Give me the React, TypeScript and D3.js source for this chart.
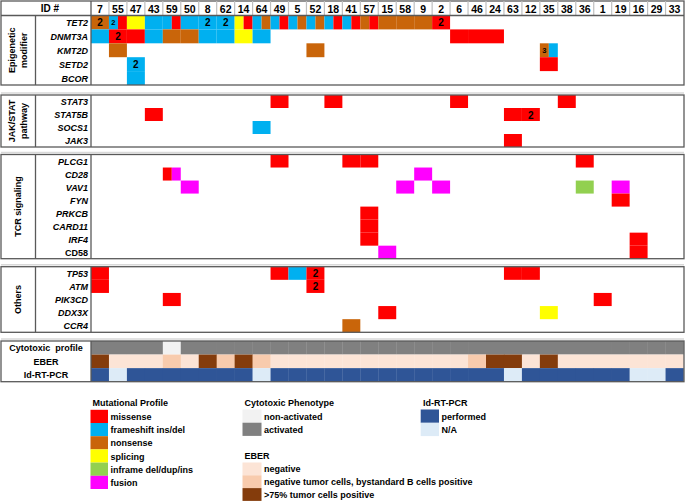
import React from "react";
import * as d3 from "d3";

// ---------- DATA ----------
const IDS = [7, 55, 47, 43, 59, 50, 8, 62, 14, 64, 49, 5, 52, 18, 41, 57, 15, 58, 9, 2, 6, 46, 24, 63, 12, 35, 38, 36, 1, 19, 16, 29, 33];

const EPIGENETIC = ["TET2", "DNMT3A", "KMT2D", "SETD2", "BCOR"];
const JAKSTAT = ["STAT3", "STAT5B", "SOCS1", "JAK3"];
const TCR = ["PLCG1", "CD28", "VAV1", "FYN", "PRKCB", "CARD11", "IRF4", "CD58"];
const OTHERS = ["TP53", "ATM", "PIK3CD", "DDX3X", "CCR4"];

const MUT_TYPES = ["missense", "frameshift ins/del", "nonsense", "splicing", "inframe del/dup/ins", "fusion"];
const MUT_COLORS = ["#FF0000", "#00B0F0", "#C9650A", "#FFFF00", "#92D050", "#FF00FF"];

// [gene, patient, type, label]; several entries for one gene/patient split the cell
const MUTATIONS: [string, number, string, string?][] = [
  ["TET2", 7, "nonsense", "2"],
  ["TET2", 55, "frameshift ins/del", "2"], ["TET2", 55, "missense"],
  ["TET2", 47, "splicing"],
  ["TET2", 43, "frameshift ins/del"],
  ["TET2", 59, "frameshift ins/del"], ["TET2", 59, "missense"],
  ["TET2", 50, "frameshift ins/del"],
  ["TET2", 8, "frameshift ins/del", "2"],
  ["TET2", 62, "frameshift ins/del", "2"],
  ["TET2", 14, "splicing"], ["TET2", 14, "missense"],
  ["TET2", 64, "frameshift ins/del"], ["TET2", 64, "nonsense"],
  ["TET2", 49, "frameshift ins/del"], ["TET2", 49, "missense"],
  ["TET2", 5, "frameshift ins/del"], ["TET2", 5, "nonsense"],
  ["TET2", 52, "frameshift ins/del"], ["TET2", 52, "nonsense"],
  ["TET2", 18, "frameshift ins/del"], ["TET2", 18, "missense"],
  ["TET2", 41, "frameshift ins/del"], ["TET2", 41, "missense"],
  ["TET2", 57, "nonsense"], ["TET2", 57, "missense"],
  ["TET2", 15, "nonsense"], ["TET2", 58, "nonsense"], ["TET2", 9, "nonsense"],
  ["TET2", 2, "missense", "2"],
  ["DNMT3A", 7, "frameshift ins/del"], ["DNMT3A", 55, "missense", "2"], ["DNMT3A", 47, "missense"],
  ["DNMT3A", 43, "frameshift ins/del"], ["DNMT3A", 59, "nonsense"], ["DNMT3A", 50, "nonsense"],
  ["DNMT3A", 8, "frameshift ins/del"], ["DNMT3A", 62, "frameshift ins/del"], ["DNMT3A", 14, "splicing"],
  ["DNMT3A", 64, "frameshift ins/del"], ["DNMT3A", 6, "missense"], ["DNMT3A", 46, "missense"], ["DNMT3A", 24, "missense"],
  ["KMT2D", 55, "nonsense"], ["KMT2D", 52, "nonsense"], ["KMT2D", 35, "nonsense", "3"], ["KMT2D", 35, "frameshift ins/del"],
  ["SETD2", 47, "frameshift ins/del", "2"], ["SETD2", 35, "missense"],
  ["BCOR", 47, "frameshift ins/del"],
  ["STAT3", 49, "missense"], ["STAT3", 18, "missense"], ["STAT3", 6, "missense"], ["STAT3", 38, "missense"],
  ["STAT5B", 43, "missense"], ["STAT5B", 63, "missense"], ["STAT5B", 12, "missense", "2"],
  ["SOCS1", 64, "frameshift ins/del"],
  ["JAK3", 63, "missense"],
  ["PLCG1", 49, "missense"], ["PLCG1", 41, "missense"], ["PLCG1", 57, "missense"], ["PLCG1", 36, "missense"],
  ["CD28", 59, "missense"], ["CD28", 59, "fusion"], ["CD28", 9, "fusion"],
  ["VAV1", 50, "fusion"], ["VAV1", 58, "fusion"], ["VAV1", 2, "fusion"], ["VAV1", 36, "inframe del/dup/ins"], ["VAV1", 19, "fusion"],
  ["FYN", 19, "missense"],
  ["PRKCB", 57, "missense"],
  ["CARD11", 57, "missense"],
  ["IRF4", 57, "missense"], ["IRF4", 16, "missense"],
  ["CD58", 15, "fusion"], ["CD58", 16, "missense"],
  ["TP53", 7, "missense"], ["TP53", 49, "missense"], ["TP53", 5, "frameshift ins/del"], ["TP53", 52, "missense", "2"],
  ["TP53", 63, "missense"], ["TP53", 12, "missense"],
  ["ATM", 7, "missense"], ["ATM", 52, "missense", "2"],
  ["PIK3CD", 59, "missense"], ["PIK3CD", 1, "missense"],
  ["DDX3X", 15, "missense"], ["DDX3X", 35, "splicing"],
  ["CCR4", 41, "nonsense"],
];

// annotation tracks, aligned with IDS
const CYTO_TYPES = ["non-activated", "activated"];
const CYTO_COLORS = ["#F2F2F2", "#808080"];
const CYTOTOXIC = ["activated", "activated", "activated", "activated", "non-activated", "activated", "activated", "activated", "activated", "activated",
  "activated", "activated", "activated", "activated", "activated", "activated", "activated", "activated", "activated", "activated",
  "activated", "activated", "activated", "activated", "activated", "activated", "activated", "activated", "activated", "activated",
  "activated", "activated", "activated"];

const EBER_TYPES = ["negative", "negative tumor cells, bystandard B cells positive", ">75% tumor cells positive"];
const EBER_COLORS = ["#FCE4D6", "#F8CBAD", "#843C0C"];
const EBER = ["pos", "neg", "neg", "neg", "mid", "neg", "pos", "mid", "pos", "mid",
  "neg", "neg", "neg", "neg", "neg", "neg", "neg", "neg", "neg", "neg",
  "neg", "mid", "pos", "pos", "neg", "pos", "neg", "neg", "neg", "neg",
  "neg", "neg", "neg"];
const EBER_KEYS = ["neg", "mid", "pos"];

const PCR_TYPES = ["performed", "N/A"];
const PCR_COLORS = ["#2F5597", "#DDEBF7"];
const PCR = ["performed", "N/A", "performed", "performed", "performed", "performed", "performed", "performed", "performed", "N/A",
  "performed", "performed", "performed", "performed", "performed", "performed", "performed", "performed", "performed", "performed",
  "performed", "performed", "performed", "N/A", "performed", "performed", "performed", "performed", "performed", "performed",
  "N/A", "N/A", "performed"];

// ---------- CHART ----------
const W = 685, H = 502;
const FONT = "'Liberation Sans', Arial, sans-serif";
const BORDER = "#595959";

export default function App() {
  const x = d3.scaleBand<string>().domain(IDS.map(String)).range([91, 683.5]).padding(0);
  const mutColor = d3.scaleOrdinal<string, string>().domain(MUT_TYPES).range(MUT_COLORS);
  const cytoColor = d3.scaleOrdinal<string, string>().domain(CYTO_TYPES).range(CYTO_COLORS);
  const eberColor = d3.scaleOrdinal<string, string>().domain(EBER_KEYS).range(EBER_COLORS);
  const pcrColor = d3.scaleOrdinal<string, string>().domain(PCR_TYPES).range(PCR_COLORS);

  const panels = [
    { name: ["Epigenetic", "modifier"], genes: EPIGENETIC, top: 15.5, bottom: 85, boxTop: 1 },
    { name: ["JAK/STAT", "pathway"], genes: JAKSTAT, top: 95, bottom: 147, boxTop: 95 },
    { name: ["TCR signaling"], genes: TCR, top: 154.5, bottom: 258.7, boxTop: 154.5 },
    { name: ["Others"], genes: OTHERS, top: 266.7, bottom: 332.3, boxTop: 266.7 },
  ];

  const bw = x.bandwidth();

  // group mutations per gene/patient
  const grouped = d3.group(MUTATIONS, (d) => d[0] + "|" + d[1]);

  const panelEls = panels.map((p, pi) => {
    const y = d3.scaleBand<string>().domain(p.genes).range([p.top, p.bottom]);
    const cells: React.ReactNode[] = [];
    grouped.forEach((list, key) => {
      const gene = list[0][0];
      if (!p.genes.includes(gene)) return;
      const id = String(list[0][1]);
      const x0 = x(id)!;
      const w = bw / list.length;
      list.forEach((m, i) => {
        const cx = x0 + i * w;
        cells.push(
          <rect key={key + i} x={cx} y={y(gene)!} width={w} height={y.bandwidth()} fill={mutColor(m[2])} />
        );
        if (m[3]) {
          cells.push(
            <text key={key + i + "t"} x={cx + w / 2} y={y(gene)! + y.bandwidth() / 2 + 0.5}
              textAnchor="middle" dominantBaseline="central" fontFamily={FONT} fontWeight="bold"
              fontSize={list.length > 1 ? 7.5 : 10} fill="#000">{m[3]}</text>
          );
        }
      });
    });
    const cy = (p.top + p.bottom) / 2;
    return (
      <g key={pi}>
        {/* light shadow line above panel */}
        {pi > 0 && <line x1={1} x2={684} y1={p.boxTop - 2} y2={p.boxTop - 2} stroke="#d9d9d9" strokeWidth={1.5} />}
        <rect x={91} y={p.top} width={592.5} height={p.bottom - p.top} fill="#fff" />
        {cells}
        {p.genes.map((g) => (
          <text key={g} x={88} y={y(g)! + y.bandwidth() / 2 + 0.5} textAnchor="end" dominantBaseline="central"
            fontFamily={FONT} fontWeight="bold" fontStyle={g === "CD58" ? "normal" : "italic"} fontSize={9} fill="#000">{g}</text>
        ))}
        <g transform={`translate(18,${cy}) rotate(-90)`}>
          {p.name.map((n, i) => (
            <text key={n} x={0} y={p.name.length === 1 ? 0 : (i === 0 ? -6 : 6)} textAnchor="middle" dominantBaseline="central"
              fontFamily={FONT} fontWeight="bold" fontSize={9} fill="#000">{n}</text>
          ))}
        </g>
        <line x1={35.5} x2={35.5} y1={p.top} y2={p.bottom} stroke={BORDER} strokeWidth={1.3} />
        <line x1={91} x2={91} y1={p.boxTop} y2={p.bottom} stroke={BORDER} strokeWidth={1.3} />
        <rect x={1} y={p.boxTop} width={683} height={p.bottom - p.boxTop} fill="none" stroke={BORDER} strokeWidth={1.3} />
      </g>
    );
  });

  // header
  const header = (
    <g>
      {IDS.map((id, i) => (
        <g key={id}>
          {i > 0 && <line x1={x(String(id))!} x2={x(String(id))!} y1={1} y2={15.5} stroke="#bfbfbf" strokeWidth={1.2} />}
          <text x={x(String(id))! + bw / 2} y={8.5} textAnchor="middle" dominantBaseline="central"
            fontFamily={FONT} fontWeight="bold" fontSize={10.5} fill="#000">{id}</text>
        </g>
      ))}
      <text x={50} y={8.5} textAnchor="middle" dominantBaseline="central" fontFamily={FONT} fontWeight="bold" fontSize={10} fill="#000">ID #</text>
      <line x1={1} x2={684} y1={15.5} y2={15.5} stroke={BORDER} strokeWidth={1.5} />
    </g>
  );

  // annotation tracks
  const tracks = [
    { label: "Cytotoxic  profile", values: CYTOTOXIC, color: cytoColor },
    { label: "EBER", values: EBER, color: eberColor },
    { label: "Id-RT-PCR", values: PCR, color: pcrColor },
  ];
  const ty = d3.scaleBand<string>().domain(tracks.map((t) => t.label)).range([341, 381.7]);
  const annot = (
    <g>
      <line x1={1} x2={684} y1={339} y2={339} stroke="#d9d9d9" strokeWidth={1.5} />
      {tracks.map((t) => (
        <g key={t.label}>
          {t.values.map((v, i) => (
            <rect key={i} x={x(String(IDS[i]))!} y={ty(t.label)!} width={bw + 0.3} height={ty.bandwidth()} fill={t.color(v)} />
          ))}
          <text x={46} y={ty(t.label)! + ty.bandwidth() / 2 + 0.5} textAnchor="middle" dominantBaseline="central"
            fontFamily={FONT} fontWeight="bold" fontSize={9} fill="#000" style={{ whiteSpace: "pre" }}>{t.label}</text>
        </g>
      ))}
      <line x1={91} x2={91} y1={341} y2={381.7} stroke={BORDER} strokeWidth={1.3} />
      <rect x={1} y={341} width={683} height={40.7} fill="none" stroke={BORDER} strokeWidth={1.3} />
    </g>
  );

  // legends
  const legendBlock = (title: string, tx: number, tyy: number, sx: number, sw: number, sy: number, sh: number, labels: string[], colors: string[]) => (
    <g key={title}>
      <text x={tx} y={tyy} dominantBaseline="central" fontFamily={FONT} fontWeight="bold" fontSize={9} fill="#000">{title}</text>
      {labels.map((l, i) => (
        <g key={l}>
          <rect x={sx} y={sy + i * sh} width={sw} height={sh} fill={colors[i]} />
          <text x={sx + sw + 2.5} y={sy + i * sh + sh / 2 + 0.5} dominantBaseline="central" fontFamily={FONT} fontWeight="bold" fontSize={9} fill="#000">{l}</text>
        </g>
      ))}
    </g>
  );

  return (
    <svg width={W} height={H} style={{ position: "absolute", left: 0, top: 0, background: "#fff" }}>
      <rect x={0} y={0} width={W} height={H} fill="#fff" />
      {panelEls}
      {header}
      {annot}
      {legendBlock("Mutational Profile", 92.5, 403, 90.5, 17.5, 409.8, 13.2, MUT_TYPES, MUT_COLORS)}
      {legendBlock("Cytotoxic Phenotype", 244.5, 403, 242.5, 19, 409.5, 13.2, CYTO_TYPES, CYTO_COLORS)}
      {legendBlock("EBER", 244.5, 456, 242.5, 19, 462.5, 12.8, EBER_TYPES, EBER_COLORS)}
      {legendBlock("Id-RT-PCR", 423, 403, 420.7, 18.3, 409.5, 13.3, PCR_TYPES, PCR_COLORS)}
    </svg>
  );
}
